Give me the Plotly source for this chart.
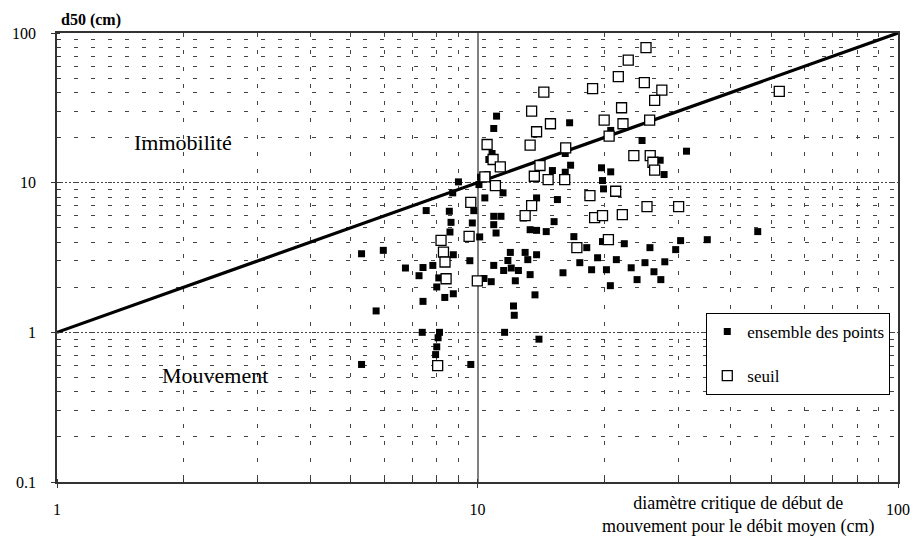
import plotly.graph_objects as go

# Ensemble des points (carrés pleins) : diamètre critique (cm), d50 (cm)
ens_x = [5.30, 5.74, 5.30, 8.06, 8.00, 7.95, 9.64, 14.0,
         11.10, 10.93, 10.83, 10.64, 10.54, 10.17, 9.01, 8.73, 10.08, 10.41, 11.50,
         8.57, 7.55, 9.80, 10.93, 11.37,
         8.65, 9.72, 8.60, 10.12, 10.93, 11.07, 12.86, 13.34, 13.82, 5.97, 8.76, 9.59,
         11.97, 11.81, 12.98, 13.17, 13.82, 6.74, 7.42, 7.83, 7.26, 8.09, 8.00, 8.76,
         8.36, 7.42, 10.93, 11.54, 12.03, 12.51, 12.30, 10.36, 10.78, 13.34, 13.70,
         12.18, 12.23, 7.39, 8.12, 11.60,
         16.56, 20.74, 24.62, 31.41, 16.17, 16.65, 27.19, 15.07, 16.17, 19.72, 20.74,
         27.78, 19.83, 19.94, 13.82, 15.49,
         14.57, 15.21, 15.97, 16.95, 17.51, 18.19, 18.68, 19.30, 19.83, 20.26, 20.70,
         21.39, 22.34, 23.20, 23.96, 25.02, 25.71, 26.28, 27.29, 27.89, 29.60, 30.41,
         35.19, 46.39]
ens_y = [3.35, 1.39, 0.61, 0.92, 0.80, 0.71, 0.61, 0.90,
         27.83, 23.02, 15.66, 14.28, 11.33, 10.87, 10.12, 8.55, 9.71, 7.91, 8.55,
         6.44, 6.51, 6.50, 5.96, 5.96,
         5.43, 5.38, 4.68, 4.34, 5.24, 4.61, 5.81, 4.85, 4.80, 3.53, 3.30, 3.01,
         3.42, 3.02, 3.42, 3.06, 3.30, 2.69, 2.71, 2.80, 2.39, 2.31, 2.01, 1.81,
         1.71, 1.61, 2.80, 2.59, 2.69, 2.59, 2.21, 2.29, 2.18, 2.43, 1.78,
         1.50, 1.30, 1.00, 1.00, 1.00,
         25.13, 22.33, 19.13, 16.23, 15.66, 13.08, 14.12, 12.05, 11.74, 12.57, 11.81,
         11.33, 10.33, 9.09, 7.91, 7.71,
         4.71, 5.49, 2.50, 4.36, 2.92, 3.68, 2.62, 3.15, 4.04, 2.62, 2.05,
         3.06, 3.91, 2.70, 2.25, 2.92, 3.68, 2.54, 2.25, 2.96, 3.57, 4.10,
         4.16, 4.71]

# Points de seuil (carrés vides)
seuil_x = [25.16, 22.83, 21.62, 24.93, 27.44, 18.78, 14.38, 26.38, 22.01, 13.45,
           20.01, 22.18, 25.67, 14.91, 13.82, 20.56, 13.34, 16.21, 23.54, 25.75,
           26.13, 26.38, 14.08, 13.65, 14.72, 16.12, 18.51, 21.31, 52.2,
           10.54, 10.89, 11.33, 10.41, 11.03, 9.64, 13.45, 12.98,
           8.19, 8.30, 8.37, 8.42, 9.55, 9.99, 8.04,
           17.23, 18.99, 19.83, 20.48, 22.10, 25.30, 30.08]
seuil_y = [79.9, 65.97, 51.07, 46.56, 41.55, 42.45, 40.29, 35.44, 31.67, 30.06,
           26.16, 24.75, 26.16, 24.75, 21.88, 20.44, 17.80, 17.10, 15.18, 15.18,
           13.69, 12.11, 13.02, 11.04, 10.49, 10.49, 8.20, 8.76, 40.7,
           17.99, 14.28, 12.76, 10.94, 9.56, 7.39, 7.03, 6.03,
           4.12, 3.44, 2.95, 2.28, 4.38, 2.21, 0.60,
           3.68, 5.84, 6.03, 4.16, 6.12, 6.92, 6.92]

# Droite d50 = diamètre critique
eg_x = [1, 100]
eg_y = [1, 100]

x_ticks = [1, 10, 100]
x_ticklabels = ["1", "10", "100"]
y_ticks = [0.1, 1, 10, 100]
y_ticklabels = ["0.1", "1", "10", "100"]

SERIF = "Liberation Serif"

fig = go.Figure()

fig.add_trace(go.Scatter(
    x=eg_x, y=eg_y, mode="lines",
    line=dict(color="black", width=3.2),
    showlegend=False, hoverinfo="skip",
))
fig.add_trace(go.Scatter(
    x=ens_x, y=ens_y, mode="markers", name="ensemble des points",
    legendgroup="a",
    marker=dict(symbol="square", size=7, color="black",
                line=dict(color="black", width=0)),
))
fig.add_trace(go.Scatter(
    x=seuil_x, y=seuil_y, mode="markers", name="seuil",
    legendgroup="b",
    marker=dict(symbol="square", size=10, color="white",
                line=dict(color="black", width=1.3)),
))

minor_grid = dict(showgrid=True, gridcolor="#444", gridwidth=1,
                  griddash="4px,13px", dtick="D1",
                  ticks="inside", ticklen=3, tickcolor="#333")

fig.update_xaxes(
    type="log", range=[0, 2],
    tickvals=x_ticks, ticktext=x_ticklabels,
    showgrid=True, gridcolor="#808080", gridwidth=1.5,
    showline=True, linecolor="#333", linewidth=1.5, mirror=True,
    ticks="outside", ticklen=4, tickcolor="#333",
    ticklabelstandoff=8,
    tickfont=dict(family=SERIF, size=16, color="black"),
    minor=minor_grid, zeroline=False,
)
fig.update_yaxes(
    type="log", range=[-1, 2],
    tickvals=y_ticks, ticktext=y_ticklabels,
    showgrid=True, gridcolor="#444", gridwidth=1, griddash="2px,2px",
    showline=True, linecolor="#333", linewidth=1.5, mirror=True,
    ticks="outside", ticklen=4, tickcolor="#333",
    ticklabelstandoff=12,
    tickfont=dict(family=SERIF, size=16, color="black"),
    minor=minor_grid, zeroline=False,
)

W, H = 922, 539
L, R, T, B = 53, 18, 33, 57
pw, ph = W - L - R, H - T - B


def px(x):
    return (x - L) / pw


def py(y):
    return (H - B - y) / ph


annots = [
    dict(text="<b>d50 (cm)</b>", x=px(55), y=py(20), xanchor="left", yanchor="middle",
         font=dict(family=SERIF, size=16, color="black")),
    dict(text="Immobilité", x=px(180), y=py(142), xanchor="center", yanchor="middle",
         font=dict(family=SERIF, size=22, color="black")),
    dict(text="Mouvement", x=px(213), y=py(375), xanchor="center", yanchor="middle",
         font=dict(family=SERIF, size=22, color="black")),
    dict(text="diamètre critique de début de<br>mouvement pour le débit moyen (cm)",
         x=px(742), y=py(515), xanchor="center", yanchor="middle",
         font=dict(family=SERIF, size=18, color="black")),
]
for a in annots:
    a.update(xref="paper", yref="paper", showarrow=False)

fig.update_layout(
    width=W, height=H,
    margin=dict(l=L, r=R, t=T, b=B),
    paper_bgcolor="white", plot_bgcolor="white",
    annotations=annots,
    legend=dict(
        x=px(710), y=py(313), xanchor="left", yanchor="top",
        bgcolor="white", bordercolor="black", borderwidth=1,
        font=dict(family=SERIF, size=17, color="black"),
        itemwidth=30, tracegroupgap=19, traceorder="grouped",
    ),
    showlegend=True,
)

fig.write_html("out.html")
